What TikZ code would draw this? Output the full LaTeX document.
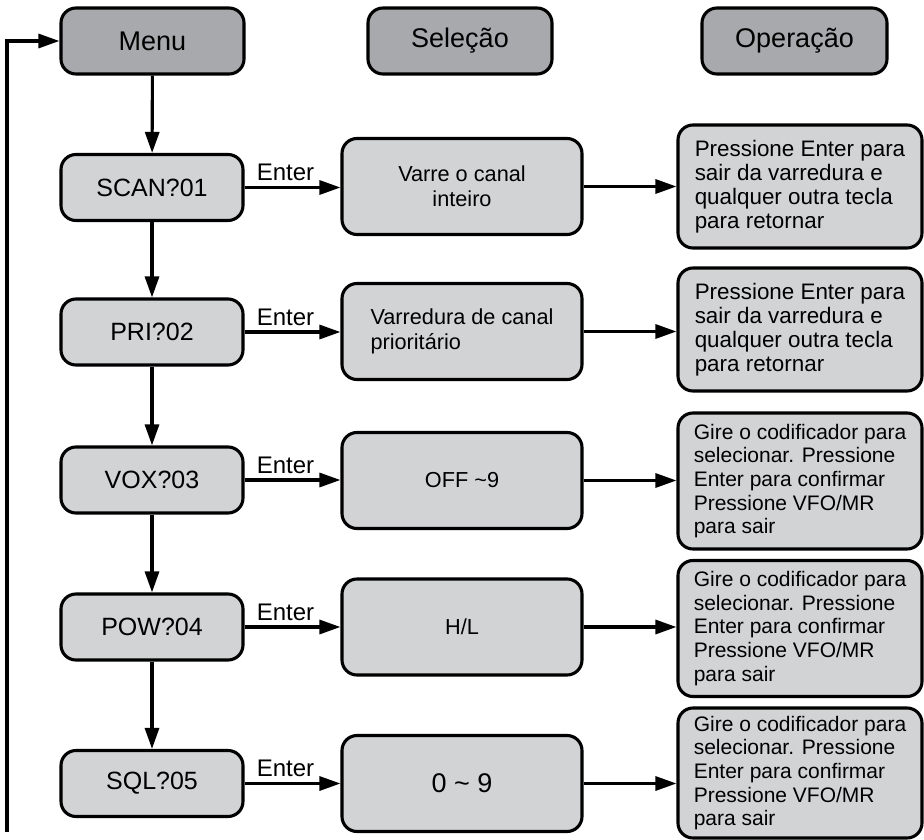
\documentclass[tikz,border=0pt]{standalone}
\usepackage{fontspec}
\setmainfont{Liberation Sans}
\usetikzlibrary{arrows.meta,calc}
\definecolor{hdrgray}{HTML}{A7A9AC}
\definecolor{boxgray}{HTML}{D1D3D4}
\begin{document}
\begin{tikzpicture}[x=1pt,y=-1pt,
 box/.style={draw=black, line width=3.1pt, rounded corners=15pt, fill=boxgray, inner sep=0pt, align=center},
 hdr/.style={box, fill=hdrgray, minimum width=183pt, minimum height=66pt, font=\fontsize{27}{32}\selectfont},
 menuitem/.style={box, minimum width=182pt, minimum height=66pt, font=\fontsize{25}{30}\selectfont},
 selbox/.style={box, minimum width=240pt, minimum height=96pt, font=\fontsize{21.7}{25}\selectfont},
 opbox/.style={box, minimum width=244pt, align=left, font=\fontsize{22.4}{24}\selectfont},
 opboxg/.style={box, minimum width=244pt, align=left, font=\fontsize{21}{23.7}\selectfont},
 flow/.style={line width=3.1pt, -{Triangle[length=21pt,width=14pt]}},
 enter/.style={anchor=base west, font=\fontsize{24}{28}\selectfont, inner sep=0pt}
]
\useasboundingbox (0,0) rectangle (924,840);

% headers
\node[hdr] (menu) at (152.5,41) {Menu};
\node[hdr, minimum width=184pt] (sel) at (460,41) {Seleção};
\node[hdr, minimum width=185pt] (op) at (794.5,41) {Operação};

% menu items
\node[menuitem] (m1) at (152,187.5) {SCAN?01};
\node[menuitem] (m2) at (152,332) {PRI?02};
\node[menuitem] (m3) at (152,480) {VOX?03};
\node[menuitem] (m4) at (152,627) {POW?04};
\node[menuitem] (m5) at (152,783.5) {SQL?05};

% selections
\node[selbox] (s1) at (462,186.5) {Varre o canal\\inteiro};
\node[selbox, align=left] (s2) at (462,331.5) {Varredura de canal\\prioritário};
\node[selbox] (s3) at (462,480.5) {OFF \textasciitilde9};
\node[selbox] (s4) at (462,627) {H/L};
\node[selbox, font=\fontsize{27}{32}\selectfont] (s5) at (462,783.5) {0 \textasciitilde{} 9};

% operations
\node[opbox, minimum height=123pt] (o1) at (800,186.5) {Pressione Enter para\\sair da varredura e\\qualquer outra tecla\\para retornar};
\node[opbox, minimum height=123pt] (o2) at (800,329.5) {Pressione Enter para\\sair da varredura e\\qualquer outra tecla\\para retornar};
\node[opboxg, minimum height=136pt] (o3) at (800,481) {Gire o codificador para\\selecionar. Pressione\\Enter para confirmar\\Pressione VFO/MR\\para sair};
\node[opboxg, minimum height=136pt] (o4) at (800,628.5) {Gire o codificador para\\selecionar. Pressione\\Enter para confirmar\\Pressione VFO/MR\\para sair};
\node[opboxg, minimum height=130pt] (o5) at (800,773) {Gire o codificador para\\selecionar. Pressione\\Enter para confirmar\\Pressione VFO/MR\\para sair};

% vertical flow
\draw[flow] (menu) -- (m1);
\draw[flow] (m1) -- (m2);
\draw[flow] (m2) -- (m3);
\draw[flow] (m3) -- (m4);
\draw[flow] (m4) -- (m5);

% horizontal flow
\foreach \i in {1,...,5}{
  \draw[flow] (m\i.east) -- (m\i.east -| s\i.west);
  \node[enter] at ($(m\i.east)+(12,-7)$) {Enter};
  \draw[flow] (s\i.east) -- (s\i.east -| o\i.west);
}

% feedback
\coordinate (fb) at (7,832);
\draw[flow] (fb) |- (menu.west);
\end{tikzpicture}
\end{document}
